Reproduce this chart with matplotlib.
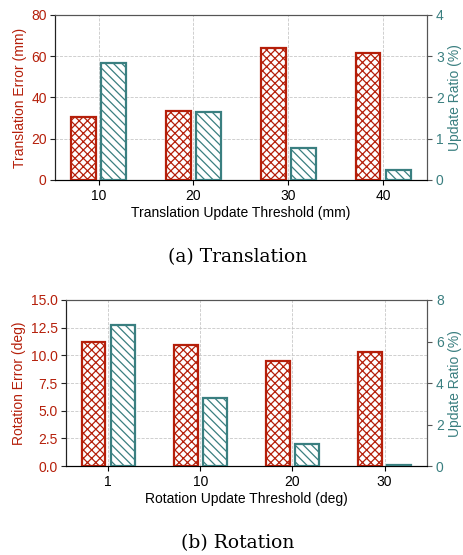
import numpy as np
import matplotlib
matplotlib.use('Agg')
import matplotlib.pyplot as plt

plt.rcParams['font.family'] = ['Liberation Sans', 'DejaVu Sans']
plt.rcParams['hatch.linewidth'] = 0.9

# Datos
trans_thresh = ['10', '20', '30', '40']
trans_error = [30.5, 33.5, 63.8, 61.6]
trans_ratio = [2.83, 1.65, 0.77, 0.25]

rot_thresh = ['1', '10', '20', '30']
rot_error = [11.2, 10.9, 9.45, 10.35]
rot_ratio = [6.78, 3.27, 1.07, 0.08]

RED = '#b51f0a'
TEAL = '#3a7f80'
W = 0.26
OFF = 0.16
FS = 10
HATCH_RED = 'x' * 4
HATCH_TEAL = chr(92) * 4

fig = plt.figure(figsize=(4.64, 5.55), dpi=100)


def panel(rect, cats, err, ratio, ylim1, ticks1, fmt1, ylim2, ticks2, xlabel, ylabel):
    ax = fig.add_axes(rect)
    x = np.arange(len(cats))
    ax.bar(x - OFF, err, W, facecolor='white', edgecolor=RED, hatch=HATCH_RED, linewidth=1.6, zorder=3)
    ax.set_xlim(-0.46, len(cats) - 0.54)
    ax.set_ylim(*ylim1)
    ax.set_yticks(ticks1)
    ax.set_yticklabels([fmt1.format(t) for t in ticks1])
    ax.set_xticks(x)
    ax.set_xticklabels(cats)
    ax.tick_params(axis='y', labelcolor=RED, color='#222222', labelsize=FS, length=3.5, pad=2.5)
    ax.tick_params(axis='x', labelsize=FS, length=3.5, pad=3)
    ax.set_xlabel(xlabel, fontsize=FS, labelpad=2)
    ax.set_ylabel(ylabel, color=RED, fontsize=FS, labelpad=3)
    ax.grid(True, linestyle='--', color='#c8c8c8', linewidth=0.6, zorder=0)
    ax.set_axisbelow(True)

    ax2 = ax.twinx()
    ax2.bar(x + OFF, ratio, W, facecolor='white', edgecolor=TEAL, hatch=HATCH_TEAL, linewidth=1.6, zorder=3)
    ax2.set_ylim(*ylim2)
    ax2.set_yticks(ticks2)
    ax2.tick_params(axis='y', labelcolor=TEAL, color='#555555', labelsize=FS, length=3.5, pad=3)
    ax2.set_ylabel('Update Ratio (%)', color=TEAL, fontsize=FS, labelpad=3)
    for a in (ax, ax2):
        a.spines['top'].set_color('#555555')
        a.spines['right'].set_color('#555555')
        a.spines['left'].set_color('#222222')
    return ax


panel([0.1185, 0.6757, 0.8015, 0.2973], trans_thresh, trans_error, trans_ratio,
      (0, 80), [0, 20, 40, 60, 80], '{:g}', (0, 4), [0, 1, 2, 3, 4],
      'Translation Update Threshold (mm)', 'Translation Error (mm)')
panel([0.142, 0.160, 0.778, 0.2995], rot_thresh, rot_error, rot_ratio,
      (0, 15), [0, 2.5, 5, 7.5, 10, 12.5, 15], '{:.1f}', (0, 8), [0, 2, 4, 6, 8],
      'Rotation Update Threshold (deg)', 'Rotation Error (deg)')

fig.text(0.512, 0.537, '(a) Translation', ha='center', va='center', fontsize=13.5, family='DejaVu Serif')
fig.text(0.512, 0.022, '(b) Rotation', ha='center', va='center', fontsize=13.5, family='DejaVu Serif')

fig.savefig('out.png', dpi=100)
